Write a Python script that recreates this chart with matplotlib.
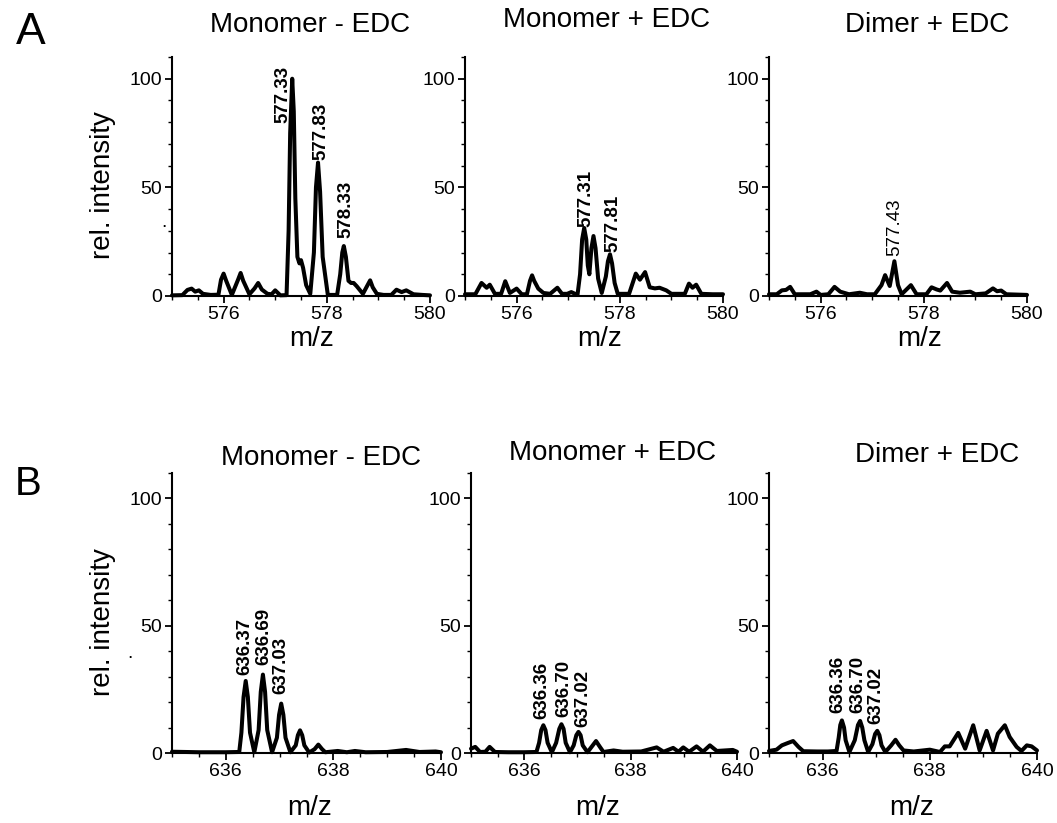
import matplotlib
matplotlib.use("Agg")
import matplotlib.pyplot as plt
from matplotlib.ticker import MultipleLocator

plt.rcParams['font.family'] = ['Liberation Sans', 'DejaVu Sans']

W, H = 1057, 823

# ---- spectra: m/z and relative intensity ----
# row A (575-580)
a1_mz = [575.0, 575.2, 575.3, 575.38, 575.45, 575.52, 575.6, 575.75, 575.9,
         575.95, 576.0, 576.05, 576.16, 576.28, 576.33, 576.38, 576.5, 576.6,
         576.67, 576.74, 576.85, 576.93, 577.0, 577.1, 577.22, 577.26, 577.29,
         577.33, 577.36, 577.39, 577.43, 577.47, 577.5, 577.54, 577.6, 577.68,
         577.75, 577.79, 577.83, 577.87, 577.92, 578.02, 578.2, 578.26, 578.3,
         578.33, 578.37, 578.42, 578.47, 578.52, 578.58, 578.7, 578.79, 578.84,
         578.89, 578.97, 579.1, 579.25, 579.35, 579.45, 579.54, 579.68, 579.85,
         580.0]
a1_int = [0.3, 0.4, 2.8, 3.4, 2.0, 2.6, 1.0, 0.5, 0.6,
          7.5, 10.3, 7.0, 0.5, 7.5, 10.6, 7.0, 0.8, 3.5,
          6.0, 3.0, 1.0, 0.8, 2.6, 0.3, 0.4, 30.0, 75.0,
          100.0, 85.0, 45.0, 18.0, 15.0, 16.5, 13.0, 5.0, 1.0,
          20.0, 50.0, 61.4, 48.0, 18.0, 0.5, 0.5, 10.0, 20.0,
          23.0, 18.0, 7.0, 6.0, 6.0, 4.5, 1.0, 5.0, 7.2,
          4.0, 1.0, 0.5, 0.5, 2.9, 1.8, 2.6, 0.8, 0.5,
          0.3]

a2_mz = [575.0, 575.2, 575.32, 575.42, 575.48, 575.58, 575.7, 575.78, 575.87,
         576.0, 576.1, 576.2, 576.26, 576.3, 576.34, 576.42, 576.52, 576.65,
         576.79, 576.88, 576.98, 577.06, 577.18, 577.23, 577.27, 577.31, 577.35,
         577.38, 577.41, 577.45, 577.49, 577.53, 577.58, 577.65, 577.73, 577.77,
         577.81, 577.85, 577.9, 577.96, 578.18, 578.31, 578.39, 578.49, 578.58,
         578.68, 578.77, 578.9, 579.0, 579.26, 579.34, 579.41, 579.48, 579.58,
         579.8, 580.0]
a2_int = [0.8, 0.8, 6.0, 3.8, 5.2, 1.0, 1.0, 6.8, 1.4,
          3.4, 0.8, 0.8, 7.0, 9.5, 7.0, 3.4, 1.4, 1.0,
          3.8, 1.0, 1.0, 1.8, 0.5, 10.0, 26.0, 31.3, 26.0,
          14.0, 10.0, 22.0, 27.6, 22.0, 8.0, 1.4, 9.0, 16.0,
          19.2, 15.0, 6.0, 1.0, 1.0, 10.3, 7.5, 11.0, 4.0,
          3.5, 3.8, 2.6, 1.0, 1.0, 5.7, 3.8, 5.2, 1.0,
          0.8, 0.8]

a3_mz = [575.0, 575.15, 575.25, 575.33, 575.41, 575.5, 575.8, 575.92, 576.0,
         576.15, 576.27, 576.38, 576.55, 576.76, 576.9, 577.05, 577.18, 577.25,
         577.34, 577.43, 577.5, 577.57, 577.75, 577.86, 578.05, 578.15, 578.25,
         578.32, 578.45, 578.55, 578.7, 578.9, 579.0, 579.2, 579.34, 579.42,
         579.5, 579.6, 580.0]
a3_int = [0.8, 0.8, 2.6, 2.8, 4.2, 0.8, 0.8, 2.0, 0.5,
          0.8, 4.2, 2.0, 0.8, 1.5, 0.8, 0.8, 5.0, 9.6,
          4.6, 16.0, 5.0, 0.8, 5.0, 0.8, 0.8, 4.0, 3.0,
          2.5, 6.0, 2.0, 1.5, 2.0, 0.8, 1.2, 3.5, 2.2,
          2.5, 0.8, 0.5]

# row B (635-640)
b1_mz = [635.0, 635.5, 636.0, 636.25, 636.29, 636.33, 636.37, 636.41, 636.45,
         636.53, 636.61, 636.65, 636.69, 636.73, 636.77, 636.86, 636.95, 636.99,
         637.03, 637.07, 637.11, 637.2, 637.3, 637.34, 637.38, 637.42, 637.46,
         637.55, 637.65, 637.72, 637.79, 637.85, 638.08, 638.25, 638.4, 638.6,
         639.0, 639.35, 639.6, 639.9, 640.0]
b1_int = [0.5, 0.3, 0.3, 0.4, 8.0, 22.0, 28.3, 22.0, 8.0,
          0.3, 9.0, 24.0, 30.8, 24.0, 9.0, 0.3, 6.0, 15.0,
          19.4, 15.0, 6.0, 0.3, 3.0, 7.0, 8.9, 7.0, 3.0,
          0.2, 1.5, 3.3, 1.5, 0.3, 0.8, 0.3, 0.8, 0.3,
          0.4, 1.2, 0.4, 0.6, 0.3]

b2_mz = [635.0, 635.08, 635.17, 635.27, 635.35, 635.45, 635.7, 636.0, 636.23,
         636.28, 636.32, 636.36, 636.4, 636.44, 636.52, 636.6, 636.66, 636.7,
         636.74, 636.78, 636.86, 636.93, 636.98, 637.02, 637.06, 637.1, 637.19,
         637.27, 637.35, 637.42, 637.49, 637.68, 637.85, 638.2, 638.49, 638.62,
         638.8, 638.9, 638.99, 639.1, 639.24, 639.36, 639.49, 639.62, 639.92,
         640.0]
b2_int = [1.7, 2.4, 0.4, 0.5, 2.4, 0.4, 0.3, 0.3, 0.4,
          4.0, 9.0, 10.9, 9.0, 4.0, 0.3, 4.0, 9.5, 11.3,
          9.5, 4.0, 0.3, 3.0, 7.0, 8.3, 7.0, 3.0, 0.3,
          2.5, 4.7, 2.5, 0.4, 1.0, 0.5, 0.6, 2.2, 0.5,
          2.0, 0.5, 2.2, 0.5, 2.6, 0.5, 3.0, 0.8, 1.2,
          0.5]

b3_mz = [635.0, 635.14, 635.24, 635.36, 635.45, 635.55, 635.64, 635.9, 636.1,
         636.26, 636.3, 636.33, 636.36, 636.4, 636.43, 636.5, 636.6, 636.66,
         636.7, 636.74, 636.78, 636.85, 636.93, 636.98, 637.02, 637.06, 637.1,
         637.17, 637.28, 637.36, 637.43, 637.51, 637.7, 638.0, 638.19, 638.28,
         638.37, 638.53, 638.66, 638.81, 638.93, 639.06, 639.18, 639.27, 639.4,
         639.49, 639.62, 639.71, 639.81, 639.9, 640.0]
b3_int = [0.8, 1.3, 3.0, 4.0, 4.7, 2.4, 0.7, 0.6, 0.6,
          0.8, 6.0, 11.0, 12.8, 10.0, 5.0, 0.4, 5.0, 11.0,
          12.6, 10.0, 5.0, 0.4, 3.5, 7.5, 8.7, 7.0, 3.0,
          0.4, 3.0, 5.2, 3.0, 1.0, 0.6, 1.3, 0.4, 2.6,
          2.6, 7.9, 1.7, 10.9, 1.0, 8.7, 1.0, 7.6, 10.9,
          6.3, 2.4, 0.8, 3.0, 2.6, 1.0]

# labelled peak centroids (m/z)
a1_peaks = [577.33, 577.83, 578.33]
a2_peaks = [577.31, 577.81]
a3_peaks = [577.43]
b1_peaks = [636.37, 636.69, 637.03]
b2_peaks = [636.36, 636.70, 637.02]
b3_peaks = [636.36, 636.70, 637.02]

titles = ["Monomer - EDC", "Monomer + EDC", "Dimer + EDC"]


def box(left, top, right, bottom):
    return [left / W, 1 - bottom / H, (right - left) / W, (bottom - top) / H]


fig = plt.figure(figsize=(W / 100, H / 100), dpi=100)

panels = [
    # axes box (px), x range, trace, peaks, label offsets (dx, y), weight
    (box(172, 57, 430, 296), (575, 580), a1_mz, a1_int, a1_peaks,
     [(-0.18, 79.7), (0.05, 62.7), (0.04, 26.7)], 'bold'),
    (box(465, 57, 723, 296), (575, 580), a2_mz, a2_int, a2_peaks,
     [(0.03, 31.9), (0.05, 20.4)], 'bold'),
    (box(769, 57, 1027, 296), (575, 580), a3_mz, a3_int, a3_peaks,
     [(0.01, 18.4)], 'normal'),
    (box(172, 473, 441, 753), (635, 640), b1_mz, b1_int, b1_peaks,
     [(-0.01, 30.5), (0.01, 34.5), (-0.01, 23.3)], 'bold'),
    (box(471, 473, 737, 753), (635, 640), b2_mz, b2_int, b2_peaks,
     [(-0.03, 13.5), (0.05, 14.2), (0.08, 10.2)], 'bold'),
    (box(769, 473, 1037, 753), (635, 640), b3_mz, b3_int, b3_peaks,
     [(-0.08, 15.7), (-0.04, 15.7), (-0.02, 11.5)], 'bold'),
]

for rect, xr, mz, inten, peaks, offs, weight in panels:
    ax = fig.add_axes(rect)
    ax.plot(mz, inten, color='black', lw=2.9, solid_joinstyle='round',
            solid_capstyle='round', clip_on=False)
    ax.set_xlim(*xr)
    ax.set_ylim(0, 110)
    ax.spines['top'].set_visible(False)
    ax.spines['right'].set_visible(False)
    for s in ('left', 'bottom'):
        ax.spines[s].set_linewidth(1.5)
    ax.set_yticks([0, 50, 100])
    ax.yaxis.set_minor_locator(MultipleLocator(10))
    ax.set_xticks([xr[0] + 1, xr[0] + 3, xr[1]])
    ax.xaxis.set_minor_locator(MultipleLocator(0.5))
    ax.tick_params(which='major', direction='out', length=5, width=1.3,
                   labelsize=14, pad=2)
    ax.tick_params(which='minor', direction='out', length=3, width=1.0)
    for p, (dx, ty) in zip(peaks, offs):
        ax.text(p + dx, ty, f"{p:.2f}", rotation=90, ha='center', va='bottom',
                fontsize=13.5, fontweight=weight)

# panel headings, axis titles and row letters
for cx, cy, t in [(310, 25, titles[0]), (607, 20, titles[1]), (927, 25, titles[2]),
                  (321, 458, titles[0]), (613, 453, titles[1]), (937, 455, titles[2])]:
    fig.text(cx / W, 1 - cy / H, t, ha='center', va='center', fontsize=20)

for cx, cy in [(312, 339), (600, 339), (920, 339), (310, 808), (598, 808), (912, 808)]:
    fig.text(cx / W, 1 - cy / H, "m/z", ha='center', va='center', fontsize=20)

for cy in (185, 622):
    fig.text(103 / W, 1 - cy / H, "rel. intensity", ha='center', va='center',
             rotation=90, fontsize=20)

fig.text(31 / W, 1 - 33 / H, "A", ha='center', va='center', fontsize=32)
fig.text(28 / W, 1 - 484 / H, "B", ha='center', va='center', fontsize=29)

for cx, cy in [(164, 222), (130, 654)]:
    fig.text(cx / W, 1 - cy / H, ".", ha='center', va='center', fontsize=14)

fig.savefig("out.png", dpi=100)
